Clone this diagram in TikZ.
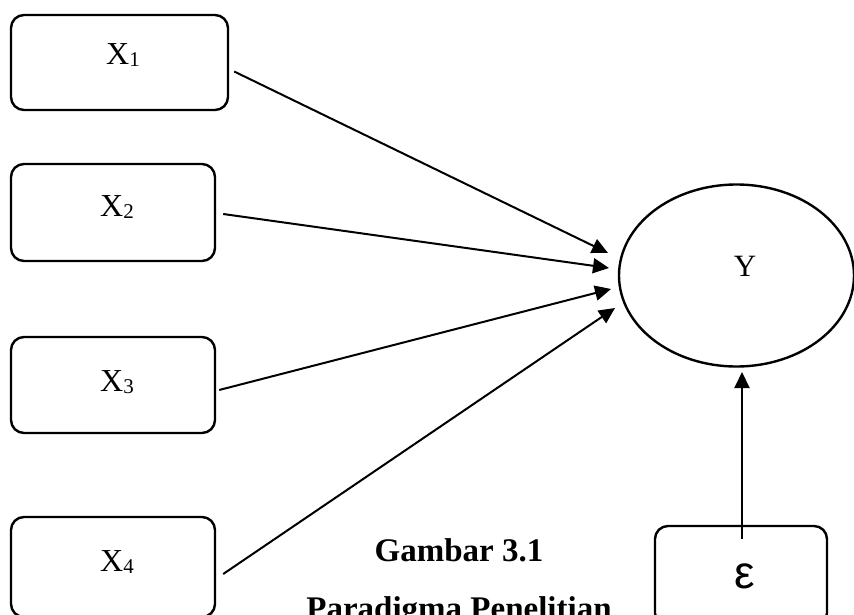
\documentclass[tikz,border=0pt]{standalone}
\usepackage{fontspec}
\setmainfont{Liberation Serif}
\newfontfamily\epsfont{Liberation Sans}
\usetikzlibrary{arrows.meta,calc,shapes.geometric}
\tikzset{
  varbox/.style={draw, line width=2.4pt, rounded corners=13pt, inner sep=0pt},
  varlabel/.style={font=\fontsize{32}{36}\selectfont, inner sep=0pt},
  arr/.style={line width=2pt, -{Triangle[length=16pt,width=15pt]}},
  captxt/.style={font=\fontsize{33}{38}\selectfont\bfseries, inner sep=0pt}
}
\newcommand{\xsub}[1]{X{\fontsize{21}{21}\selectfont\raisebox{-2pt}{#1}}}
\begin{document}
\begin{tikzpicture}[x=1pt,y=-1pt]
\useasboundingbox (0,0) rectangle (854,615);
% boxes
\node[varbox, minimum width=217pt, minimum height=95pt] (x1) at (119.5,62.5) {};
\node[varbox, minimum width=204pt, minimum height=97pt] (x2) at (113,212.5) {};
\node[varbox, minimum width=204pt, minimum height=96pt] (x3) at (113,385) {};
\node[varbox, minimum width=204pt, minimum height=100pt] (x4) at (113,567) {};
\node[varbox, minimum width=172pt, minimum height=100pt] (eps) at (741,576) {};
% labels
\node[varlabel] (l1) at (123,55) {\xsub{1}};
\node[varlabel] (l2) at (117,207) {\xsub{2}};
\node[varlabel] (l3) at (117,382) {\xsub{3}};
\node[varlabel] (l4) at (117,562) {\xsub{4}};
\node[inner sep=0pt, font=\epsfont\fontsize{46}{50}\selectfont] (le) at (745,576) {ε};
% ellipse
\node[draw, line width=2.4pt, ellipse, minimum width=235pt, minimum height=182pt, inner sep=0pt] (y) at (736.5,275.5) {};
\node[varlabel, font=\fontsize{31}{35}\selectfont] (ly) at (745,266) {Y};
% arrow tips
\coordinate (t1) at (608,253);
\coordinate (t2) at (609,268);
\coordinate (t3) at (611,289);
\coordinate (t4) at (615,308);
\coordinate (te) at (742,372);
\draw[arr] ([xshift=5pt,yshift=-9pt]x1.east) -- (t1);
\draw[arr] ([xshift=7pt,yshift=-1.5pt]x2.east) -- (t2);
\draw[arr] ([xshift=3pt,yshift=-5pt]x3.east) -- (t3);
\draw[arr] ([xshift=7pt,yshift=-7pt]x4.east) -- (t4);
\draw[arr] ([xshift=1pt,yshift=-14pt]eps.north) -- (te);
% caption
\node[captxt, anchor=base] (c1) at (459,561) {Gambar 3.1};
\node[captxt, anchor=base] (c2) at (459,619) {Paradigma Penelitian};
\end{tikzpicture}
\end{document}
